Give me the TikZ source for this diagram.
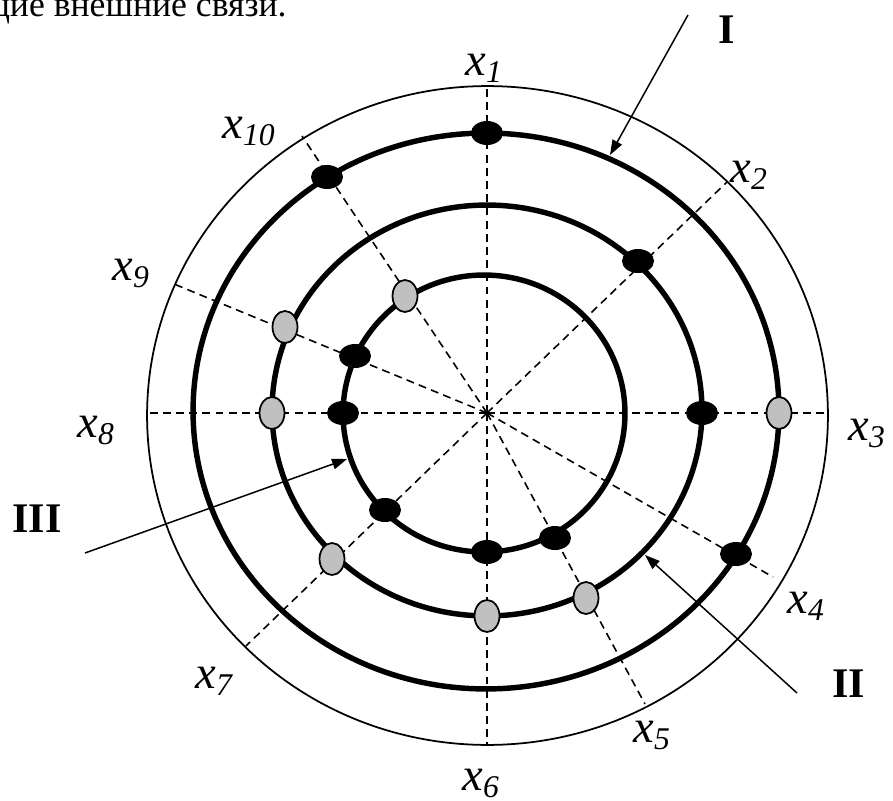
\documentclass[tikz,border=0pt]{standalone}
\usepackage{fontspec}
\setmainfont{Liberation Serif}
\usetikzlibrary{arrows.meta,shapes.geometric}
\definecolor{cdot}{RGB}{192,192,192}

\tikzset{
  ring/.style={line width=3.1pt},
  rim/.style={line width=1pt},
  spoke/.style={line width=0.9pt, dash pattern=on 4.5pt off 3pt},
  blk/.style={ellipse, fill=black, inner sep=0pt, minimum width=0.64cm, minimum height=0.48cm},
  gry/.style={ellipse, draw=black, line width=1pt, fill=cdot, inner sep=0pt, minimum width=0.5cm, minimum height=0.64cm},
  lab/.style={anchor=base west, inner sep=0pt, font=\fontsize{26.5}{30}\selectfont\itshape},
  num/.style={anchor=base west, inner sep=0pt, font=\fontsize{24}{28}\selectfont\bfseries},
  pointer/.style={line width=0.85pt, -{Triangle[length=8.5pt, width=6pt]}}
}
\newcommand{\xsub}[1]{x\raisebox{-4.5pt}{\fontsize{18}{20}\selectfont #1}}

\begin{document}
\begin{tikzpicture}[x=0.02cm, y=-0.02cm]
  \useasboundingbox (0,0) rectangle (893,801);
  \clip (0,0) rectangle (893,801);
  % line of text cut off by the page edge
  \node[anchor=base east, inner sep=0pt, font=\fontsize{20.3}{23}\selectfont] (cap) at (287,16) {щие внешние связи.};

  % rims
  \coordinate (O) at (487,413);
  \draw[rim] (487.5,415.5) ellipse [x radius=6.81cm, y radius=6.59cm];
  \draw[ring] (486,411) ellipse [x radius=5.86cm, y radius=5.56cm];
  \draw[ring] (487,410.5) ellipse [x radius=4.3cm, y radius=4.11cm];
  \draw[ring] (484,413.5) ellipse [x radius=2.82cm, y radius=2.77cm];

  % spokes
  \foreach \n/\p in {1/{487,86},2/{727,182},3/{828,413},4/{773,577},5/{645,704},
                     6/{487,745},7/{246,646},8/{147,413},9/{174,284},10/{302,136}}
    \coordinate (e\n) at (\p);
  \foreach \n in {1,...,10}
    \draw[spoke] (O) -- (e\n);

  % dots, ring I
  \node[blk] (a1) at (487,133) {};
  \node[blk] (a10) at (327,177) {};
  \node[gry] (a3) at (779,413) {};
  \node[blk] (a4) at (736,554) {};
  % dots, ring II
  \node[blk] (b2) at (638,261) {};
  \node[gry] (b9) at (285,327) {};
  \node[gry] (b8) at (272,413) {};
  \node[blk] (b3) at (702,413) {};
  \node[gry] (b7) at (332,559) {};
  \node[gry] (b6) at (487,616) {};
  \node[gry] (b5) at (586,598) {};
  % dots, ring III
  \node[gry] (c10) at (405,296) {};
  \node[blk] (c9) at (355,356) {};
  \node[blk] (c8) at (343,413) {};
  \node[blk] (c7) at (385,510) {};
  \node[blk] (c6) at (487,552) {};
  \node[blk] (c5) at (555,538) {};

  % labels
  \node[lab] (x1) at (465,75) {\xsub{1}};
  \node[lab] (x2) at (730,182) {\xsub{2}};
  \node[lab] (x3) at (848,440) {\xsub{3}};
  \node[lab] (x4) at (787,613) {\xsub{4}};
  \node[lab] (x5) at (633,742) {\xsub{5}};
  \node[lab] (x6) at (462,790) {\xsub{6}};
  \node[lab] (x7) at (195,688) {\xsub{7}};
  \node[lab] (x8) at (77,437) {\xsub{8}};
  \node[lab] (x9) at (112,280) {\xsub{9}};
  \node[lab] (x10) at (222,138) {\xsub{10}};

  \node[num] (nI) at (718,43) {I};
  \node[num] (nII) at (832,697) {II};
  \node[num] (nIII) at (12,532) {III};

  % pointers
  \coordinate (sI) at (688,15);   \coordinate (tI) at (610,155);
  \coordinate (sII) at (797,693); \coordinate (tII) at (645,555);
  \coordinate (sIII) at (85,553); \coordinate (tIII) at (347,459);
  \draw[pointer] (sI) -- (tI);
  \draw[pointer] (sII) -- (tII);
  \draw[pointer] (sIII) -- (tIII);
\end{tikzpicture}
\end{document}
